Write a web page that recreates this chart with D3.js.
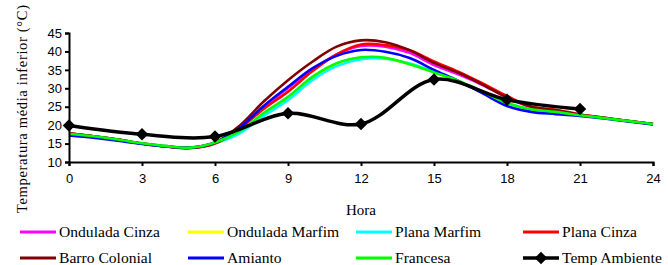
<!DOCTYPE html>
<html lang="pt">
<head>
    <meta charset="UTF-8">
    <title>Temperatura média inferior</title>
    <script src="https://cdn.jsdelivr.net/npm/d3@7/dist/d3.min.js"></script>
    <style>
        body { margin: 0; background: #fff; }
    </style>
</head>
<body>
    <div class="chart"></div>
</body>
<script>
    // horas (eixo x)
    const hours = [0, 1, 2, 3, 4, 5, 6, 7, 8, 9, 10, 11, 12, 13, 14, 15, 16, 17, 18, 19, 20, 21, 22, 23, 24]
    const xTicks = [0, 3, 6, 9, 12, 15, 18, 21, 24]
    const yTicks = [10, 15, 20, 25, 30, 35, 40, 45]

    // temperaturas médias das telhas (°C)
    const onduladaCinza = [17.8, 17.0, 16.1, 15.1, 14.3, 13.9, 15.3, 19.1, 24.9, 30.1, 35.0, 39.2, 41.5, 41.3, 39.6, 36.3, 33.8, 30.9, 27.5, 24.8, 23.8, 22.8, 22.0, 21.1, 20.3]
    const onduladaMarfim = [17.7, 17.0, 16.1, 15.0, 14.3, 13.9, 15.2, 18.0, 22.9, 27.2, 32.6, 36.4, 38.1, 38.1, 36.6, 34.4, 32.0, 29.0, 26.0, 24.2, 23.5, 22.7, 21.9, 21.1, 20.3]
    const planaMarfim = [17.7, 17.0, 16.1, 15.0, 14.3, 13.9, 15.1, 17.7, 22.5, 26.8, 32.2, 36.0, 37.9, 38.0, 36.7, 34.5, 32.0, 29.0, 26.0, 24.2, 23.5, 22.7, 21.9, 21.1, 20.3]
    const planaCinza = [17.8, 17.0, 16.1, 15.0, 14.2, 13.8, 15.0, 19.0, 24.4, 29.1, 34.6, 39.2, 41.9, 41.7, 40.3, 37.3, 34.5, 31.3, 27.9, 25.0, 24.2, 22.9, 22.0, 21.1, 20.3]
    const barroColonial = [17.7, 17.0, 16.1, 15.0, 14.2, 13.8, 15.2, 19.8, 26.4, 32.2, 37.2, 41.3, 43.0, 42.5, 40.3, 36.9, 34.2, 31.0, 27.5, 25.0, 24.0, 22.8, 22.0, 21.1, 20.3]
    const amianto = [17.2, 16.6, 15.8, 14.9, 14.2, 13.9, 15.3, 19.2, 25.2, 30.4, 35.4, 38.8, 40.4, 39.9, 38.2, 35.0, 32.0, 28.6, 25.2, 23.6, 23.0, 22.5, 21.8, 21.0, 20.2]
    const francesa = [17.6, 17.0, 16.1, 15.1, 14.3, 13.9, 15.3, 18.3, 23.3, 27.7, 33.1, 36.8, 38.4, 38.3, 36.5, 34.3, 32.0, 29.1, 26.0, 24.3, 23.6, 22.7, 21.9, 21.1, 20.3]

    // temperatura ambiente (a cada 3 horas)
    const tempHours = [0, 3, 6, 9, 12, 15, 18, 21]
    const tempAmbiente = [19.9, 17.5, 16.9, 23.2, 20.3, 32.4, 26.9, 24.4]

    const seriesNames = ['Ondulada Cinza', 'Ondulada Marfim', 'Plana Marfim', 'Plana Cinza', 'Barro Colonial', 'Amianto', 'Francesa']
    const seriesValues = [onduladaCinza, onduladaMarfim, planaMarfim, planaCinza, barroColonial, amianto, francesa]
    const seriesColors = ['#ff00ff', '#ffff00', '#00ffff', '#ff0000', '#800000', '#0000ff', '#00ff00']

    const width = 668
    const height = 265
    const svg = d3.select('.chart')
        .append('svg')
        .attr('width', width)
        .attr('height', height)

    const xScale = d3.scaleLinear().domain([0, 24]).range([69, 653])
    const yScale = d3.scaleLinear().domain([10, 45]).range([162, 33])

    const line = d3.line()
        .x(d => xScale(d[0]))
        .y(d => yScale(d[1]))
        .curve(d3.curveCatmullRom.alpha(0.5))

    // linhas das telhas
    svg.append('g').selectAll('path')
        .data(seriesValues)
        .enter()
        .append('path')
        .attr('d', vals => line(hours.map((h, i) => [h, vals[i]])))
        .attr('fill', 'none')
        .attr('stroke', (d, i) => seriesColors[i])
        .attr('stroke-width', 2.6)

    // temp ambiente
    const tempPts = tempHours.map((h, i) => [h, tempAmbiente[i]])
    svg.append('path')
        .attr('d', line(tempPts))
        .attr('fill', 'none')
        .attr('stroke', '#000')
        .attr('stroke-width', 3.5)

    const diamond = d3.symbol().type(d3.symbolSquare).size(78)
    svg.append('g').selectAll('path')
        .data(tempPts)
        .enter()
        .append('path')
        .attr('d', diamond)
        .attr('fill', '#000')
        .attr('transform', d => `translate(${xScale(d[0])},${yScale(d[1])}) rotate(45)`)

    // eixos
    const xAxis = d3.axisBottom(xScale).tickValues(xTicks).tickSize(4).tickPadding(8).tickFormat(d3.format('d'))
    const gx = svg.append('g')
        .attr('transform', `translate(0, ${yScale(10)})`)
        .call(xAxis)
    const yAxis = d3.axisLeft(yScale).tickValues(yTicks).tickSize(4).tickPadding(3).tickFormat(d3.format('d'))
    const gy = svg.append('g')
        .attr('transform', `translate(${xScale(0)}, 0)`)
        .call(yAxis)

    ;[gx, gy].forEach(g => {
        g.select('.domain').attr('stroke', '#000').attr('stroke-width', 2)
        g.selectAll('.tick line').attr('stroke', '#000').attr('stroke-width', 2)
        g.selectAll('.tick text')
            .attr('fill', '#000')
            .style('font-family', '"Liberation Sans", Arial, sans-serif')
            .style('font-size', '13px')
    })

    // títulos
    svg.append('text')
        .attr('x', 361)
        .attr('y', 215)
        .attr('text-anchor', 'middle')
        .style('font-family', '"Liberation Serif", "Times New Roman", serif')
        .style('font-size', '15px')
        .text('Hora')

    svg.append('text')
        .attr('transform', 'translate(27, 109) rotate(-90)')
        .attr('text-anchor', 'middle')
        .attr('textLength', 208)
        .attr('lengthAdjust', 'spacing')
        .style('font-family', '"Liberation Serif", "Times New Roman", serif')
        .style('font-size', '14.5px')
        .text('Temperatura média inferior (°C)')

    // legenda
    const legendNames = seriesNames.concat(['Temp Ambiente'])
    const legendColors = seriesColors.concat(['#000'])
    const colX = [20, 188, 356, 523]
    const rowY = [232, 258]
    const legend = svg.append('g').selectAll('g')
        .data(legendNames)
        .enter()
        .append('g')
        .attr('transform', (d, i) => `translate(${colX[i % 4]}, ${rowY[Math.floor(i / 4)]})`)

    legend.append('line')
        .attr('x1', 0)
        .attr('x2', 36)
        .attr('y1', 0)
        .attr('y2', 0)
        .attr('stroke', (d, i) => legendColors[i])
        .attr('stroke-width', (d, i) => i === 7 ? 3.5 : 3)

    legend.filter((d, i) => i === 7)
        .append('path')
        .attr('d', diamond)
        .attr('fill', '#000')
        .attr('transform', 'translate(18, 0) rotate(45)')

    legend.append('text')
        .attr('x', 39)
        .attr('y', 5)
        .style('font-family', '"Liberation Serif", "Times New Roman", serif')
        .style('font-size', '15.6px')
        .text(d => d)
</script>
</html>
